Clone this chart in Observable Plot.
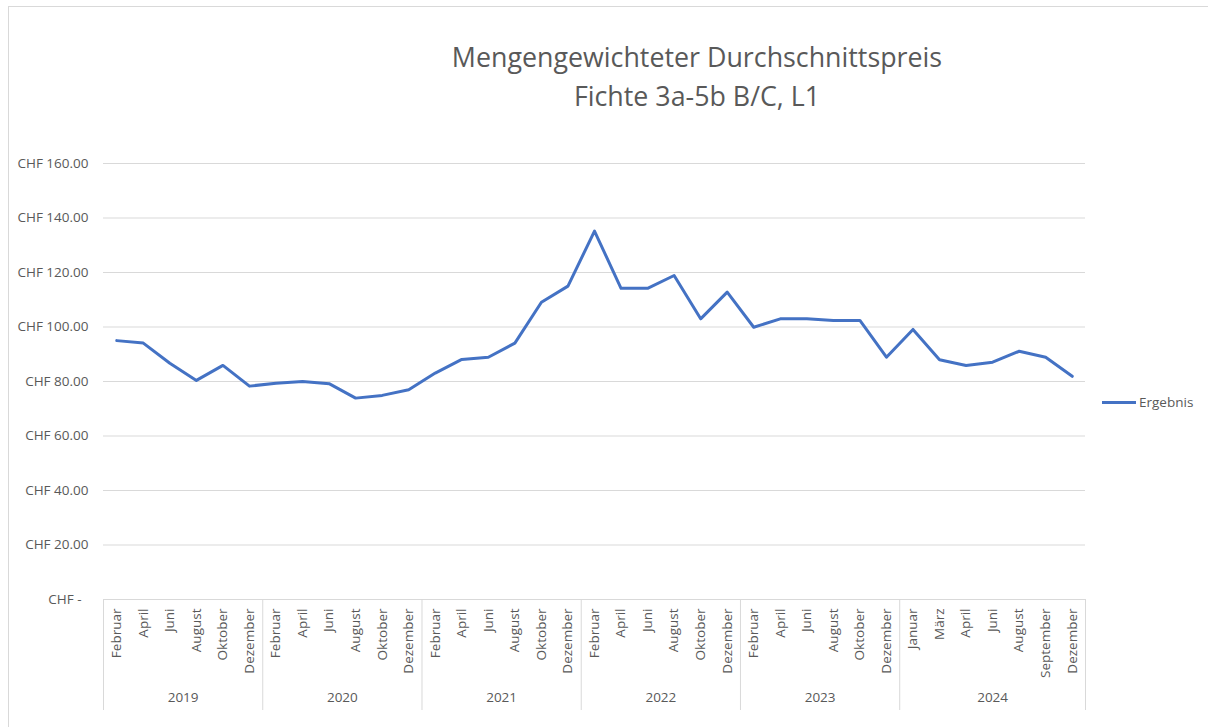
<!DOCTYPE html>
<html>
<head>
<meta charset="utf-8">
<script src="https://cdn.jsdelivr.net/npm/d3@7"></script>
<script src="https://cdn.jsdelivr.net/npm/@observablehq/plot@0.6"></script>
<style>
  html, body { margin: 0; padding: 0; background: #fff; overflow: hidden; width: 1208px; height: 727px; }
  #frame { position: absolute; left: 8px; top: 6px; width: 1400px; height: 900px; border: 1px solid #d9d9d9; box-sizing: border-box; }
  #chart { position: absolute; left: 0; top: 0; }
  #title { position: absolute; left: 347px; top: 37px; width: 700px; text-align: center;
           font-family: "Open Sans", sans-serif; font-size: 26.8px; line-height: 39px; color: #595959; }
  #legend { position: absolute; left: 1102px; top: 393px; font-family: "Open Sans", sans-serif; font-size: 13.5px; color: #595959; display: flex; align-items: center; }
  #legend .sw { width: 34px; height: 3px; background: #4472C4; margin-right: 3px; }
</style>
</head>
<body>
<div id="frame"></div>
<div id="chart"></div>
<div id="title">Mengengewichteter Durchschnittspreis<br>Fichte 3a-5b B/C, L1</div>
<div id="legend"><div class="sw"></div><span>Ergebnis</span></div>
<script>
const months = [
  "Februar","April","Juni","August","Oktober","Dezember",
  "Februar","April","Juni","August","Oktober","Dezember",
  "Februar","April","Juni","August","Oktober","Dezember",
  "Februar","April","Juni","August","Oktober","Dezember",
  "Februar","April","Juni","August","Oktober","Dezember",
  "Januar","März","April","Juni","August","September","Dezember"
];
const years = [
  "2019","2019","2019","2019","2019","2019",
  "2020","2020","2020","2020","2020","2020",
  "2021","2021","2021","2021","2021","2021",
  "2022","2022","2022","2022","2022","2022",
  "2023","2023","2023","2023","2023","2023",
  "2024","2024","2024","2024","2024","2024","2024"
];
const values = [
  95.0, 94.1, 86.7, 80.4, 85.9, 78.3,
  79.4, 80.0, 79.2, 73.9, 74.9, 77.0,
  83.1, 88.1, 88.9, 94.1, 109.1, 115.0,
  135.2, 114.2, 114.2, 118.9, 103.0, 112.8,
  99.9, 103.0, 103.0, 102.4, 102.4, 88.9,
  99.1, 88.0, 85.9, 87.1, 91.1, 88.9, 81.9
];
const yTicks = [0, 20, 40, 60, 80, 100, 120, 140, 160];
const seriesName = "Ergebnis";

const data = values.map((v, i) => ({i, month: months[i], year: years[i], value: v}));
const yearNames = Array.from(new Set(years));
const yearGroups = yearNames.map(y => {
  const idx = data.filter(d => d.year === y).map(d => d.i);
  return {year: y, start: d3.min(idx) - 0.5, end: d3.max(idx) + 0.5, mid: (d3.min(idx) + d3.max(idx)) / 2};
});
const boundaries = [yearGroups[0].start, ...yearGroups.map(g => g.end)];

const W = 1208, H = 727, mL = 103, mR = 123, mT = 163, mB = 128;
const plotH = H - mT - mB;

const chart = Plot.plot({
  width: W, height: H,
  marginLeft: mL, marginRight: mR, marginTop: mT, marginBottom: mB,
  style: {fontFamily: "'Open Sans', sans-serif", fontSize: "13.5px", color: "#595959", background: "transparent"},
  x: {domain: [-0.5, values.length - 0.5], label: null},
  y: {domain: [0, 160], label: null},
  marks: [
    Plot.gridY(yTicks.filter(t => t > 0), {stroke: "#d9d9d9", strokeOpacity: 1}),
    Plot.ruleY([0], {stroke: "#d9d9d9"}),
    Plot.ruleX(boundaries, {x: d => d, insetTop: plotH, insetBottom: -111, stroke: "#d9d9d9"}),
    Plot.axisY({ticks: yTicks, tickSize: 0, tickPadding: 15, label: null,
      tickFormat: d => d === 0 ? "CHF -\u00a0\u00a0" : "CHF " + d.toFixed(2)}),
    Plot.axisX({ticks: d3.range(values.length), tickSize: 0, tickPadding: 9, tickRotate: -90, label: null,
      tickFormat: i => months[i]}),
    Plot.text(yearGroups, {x: "mid", text: "year", frameAnchor: "bottom", dy: 102, fill: "#595959"}),
    Plot.line(data, {x: "i", y: "value", stroke: "#4472C4", strokeWidth: 3, strokeLinejoin: "round", strokeLinecap: "round"})
  ]
});
document.getElementById("chart").appendChild(chart);
</script>
</body>
</html>
